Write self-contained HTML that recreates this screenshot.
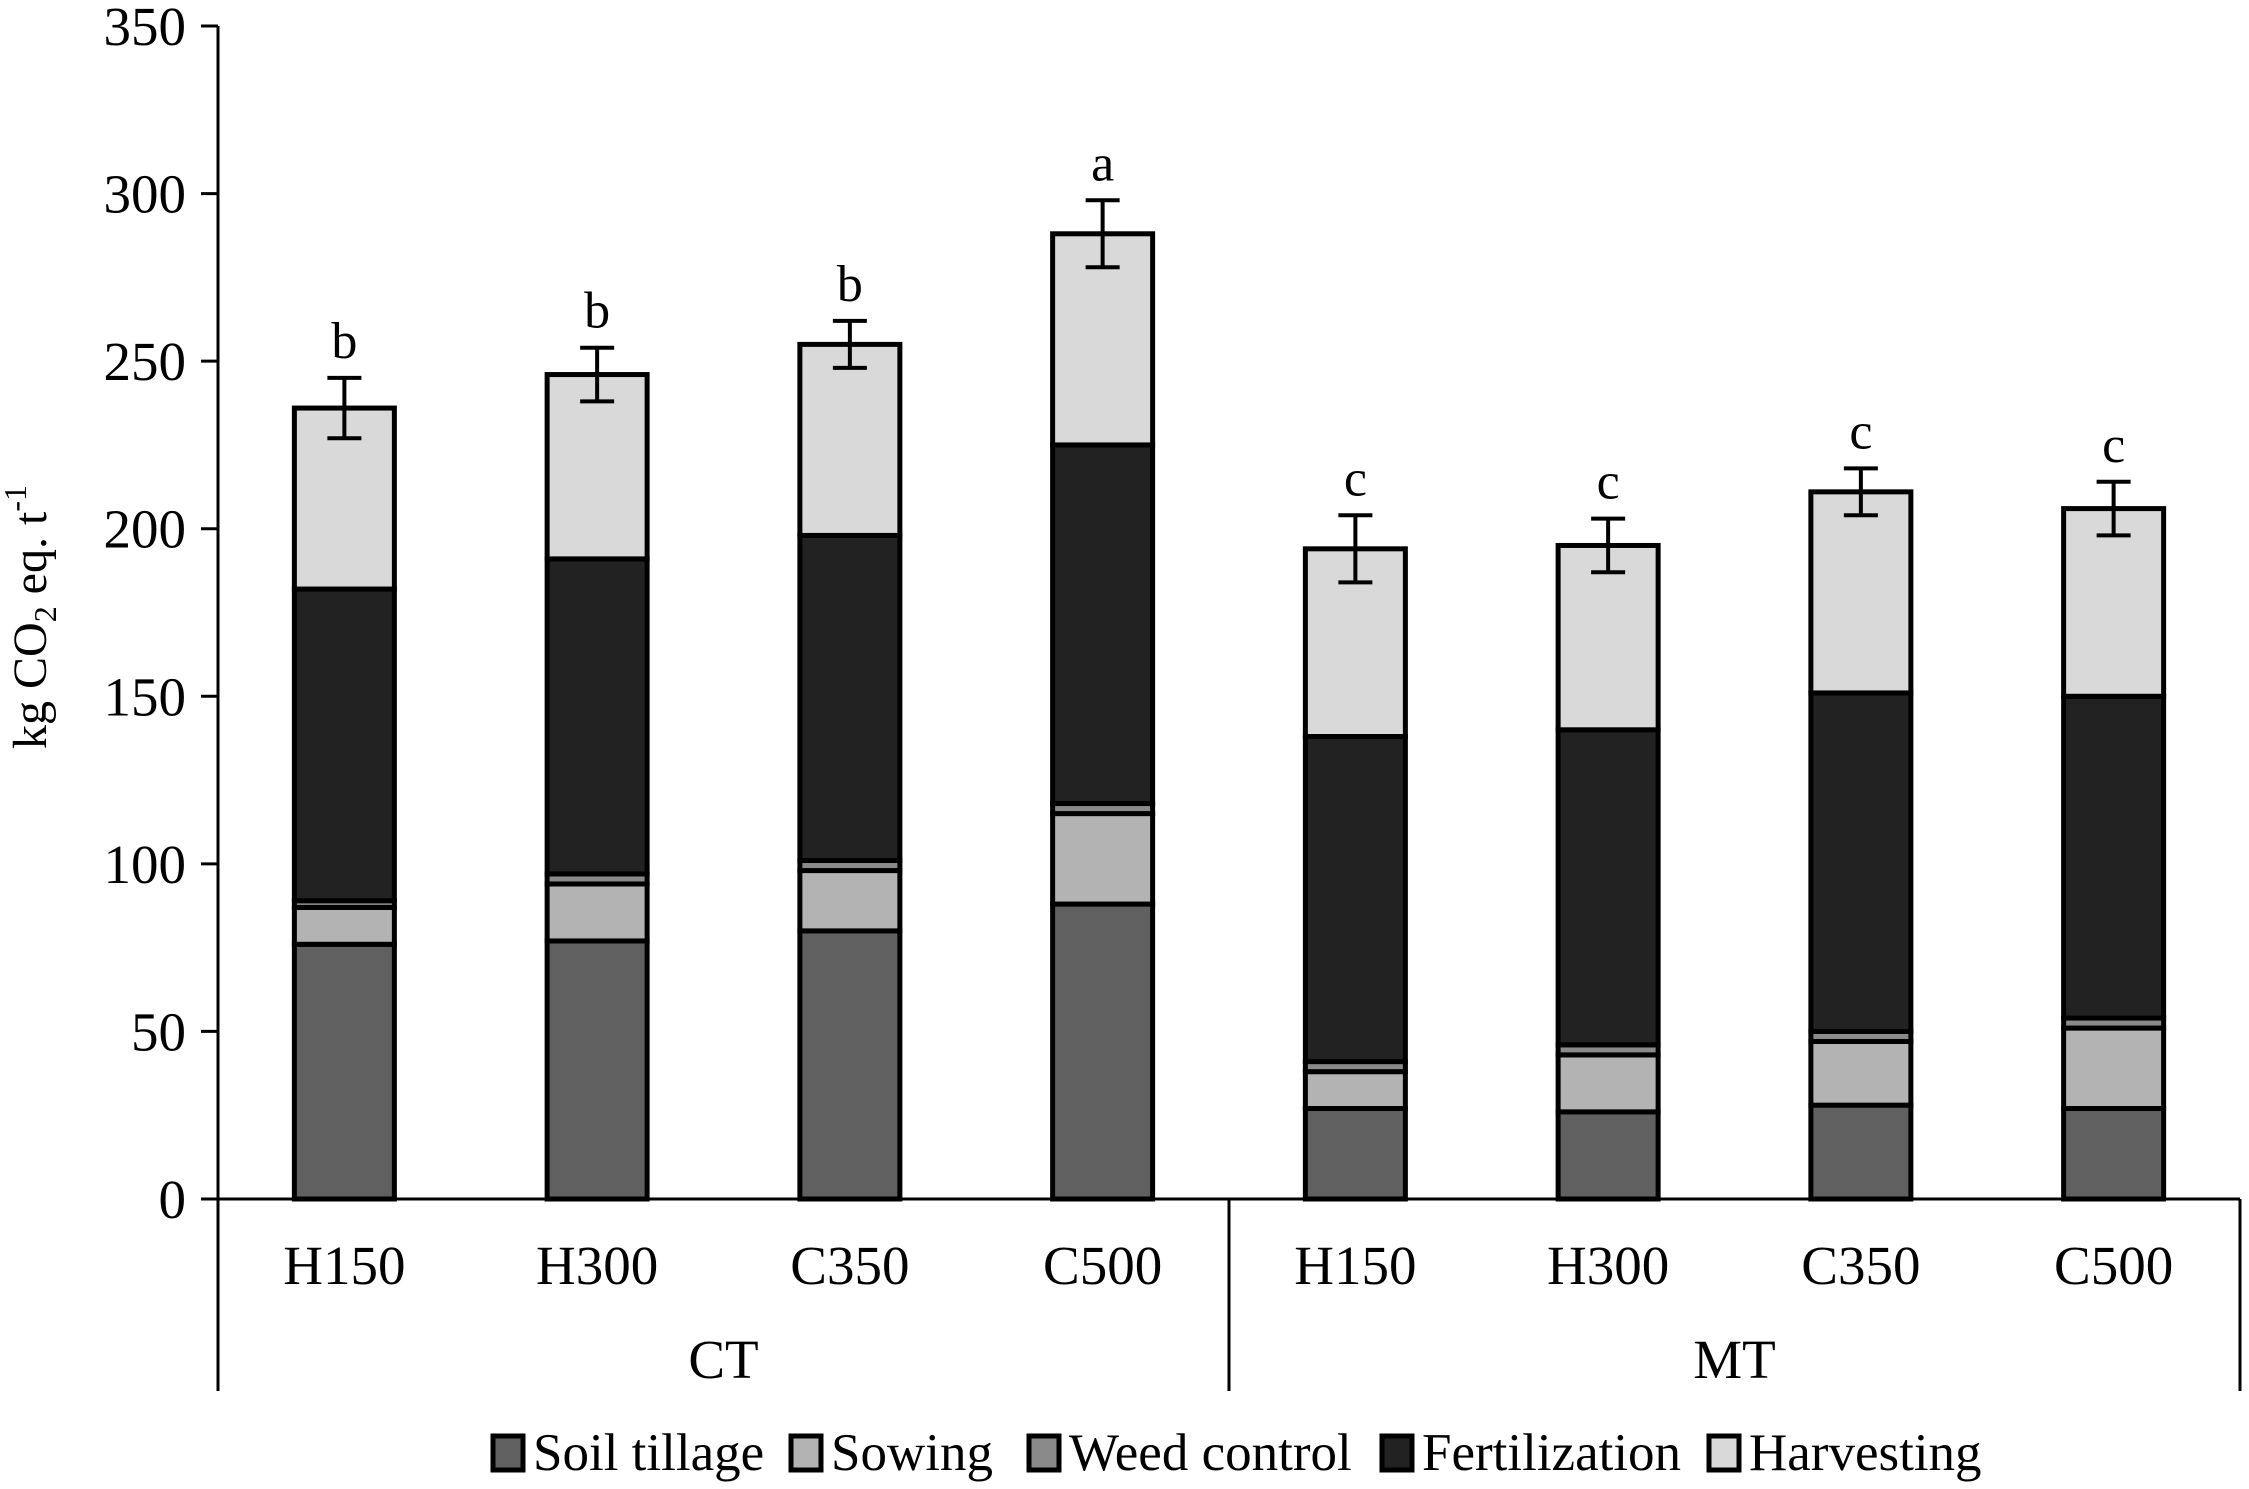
<!DOCTYPE html>
<html><head><meta charset="utf-8"><style>
html,body{margin:0;padding:0;background:#fff;}
svg{display:block;}
text{font-family:"Liberation Serif",serif;fill:#000;}
</style></head><body>
<svg id="chart" width="2249" height="1489" viewBox="0 0 2249 1489">
<g id="axes"></g>
<g id="bars"></g>
<g id="legend"></g>
<text x="0" y="0" transform="translate(46,617) rotate(-90)" text-anchor="middle" font-size="48">kg CO<tspan font-size="32" dy="10">2</tspan><tspan dy="-10"> eq. t</tspan><tspan font-size="32" dy="-20">-1</tspan></text>
</svg>
<script>
const categories = ["H150","H300","C350","C500","H150","H300","C350","C500"];
const groups = ["CT","MT"];
const seriesNames = ["Soil tillage","Sowing","Weed control","Fertilization","Harvesting"];
const soilTillage = [76,77,80,88,27,26,28,27];
const sowing = [11,17,18,27,11,17,19,24];
const weedControl = [2,3,3,3,3,3,3,3];
const fertilization = [93,94,97,107,97,94,101,96];
const harvesting = [54,55,57,63,56,55,60,56];
const errors = [9,8,7,10,10,8,7,8];
const letters = ["b","b","b","a","c","c","c","c"];
const yTicks = [0,50,100,150,200,250,300,350];
const colors = ["#606060","#b3b3b3","#8a8a8a","#222222","#d9d9d9"];

const NS="http://www.w3.org/2000/svg";
const X0=218, X1=2240, Y0=1199, Ytop=26, YMAX=350;
const catW=(X1-X0)/categories.length, barW=100;
const y=v=>Y0-(v/YMAX)*(Y0-Ytop);
const xc=i=>X0+catW*(i+0.5);
function mk(tag,attrs,parent){const e=document.createElementNS(NS,tag);for(const k in attrs)e.setAttribute(k,attrs[k]);parent.appendChild(e);return e;}
const axes=document.getElementById('axes'), bars=document.getElementById('bars'), legend=document.getElementById('legend');

let e=mk('line',{x1:X0,y1:Ytop,x2:X0,y2:1391,stroke:'#000','stroke-width':3},axes);

e=mk('line',{x1:201,y1:Y0,x2:X1,y2:Y0,stroke:'#000','stroke-width':3},axes);

[X0+catW*4,X1].forEach((xx,i)=>{
  const l=mk('line',{x1:xx,y1:Y0,x2:xx,y2:1391,stroke:'#000','stroke-width':3},axes);
  
  
});
yTicks.forEach(t=>{
  const l=mk('line',{x1:201,y1:y(t),x2:X0,y2:y(t),stroke:'#000','stroke-width':3},axes);
  
  
  const tx=mk('text',{x:186,y:y(t)+19,'text-anchor':'end','font-size':55},axes);
  tx.textContent=t;
  
  
});
categories.forEach((c,i)=>{
  const tx=mk('text',{x:xc(i),y:1284,'text-anchor':'middle','font-size':55},axes);
  tx.textContent=c;
  
  
});
groups.forEach((g,i)=>{
  const tx=mk('text',{x:X0+catW*(2+4*i),y:1378,'text-anchor':'middle','font-size':55},axes);
  tx.textContent=g;
  
  
});

const series=[soilTillage,sowing,weedControl,fertilization,harvesting];
categories.forEach((c,i)=>{
  let base=0;
  series.forEach((s,k)=>{
    const v=s[i];
    const r=mk('rect',{x:xc(i)-barW/2,y:y(base+v),width:barW,height:y(base)-y(base+v),fill:colors[k],stroke:'#000','stroke-width':5},bars);
    
    
    base+=v;
  });
  const top=base, er=errors[i], cx=xc(i);
  const eb=mk('path',{d:`M${cx},${y(top+er)}V${y(top-er)}M${cx-17},${y(top+er)}H${cx+17}M${cx-17},${y(top-er)}H${cx+17}`,stroke:'#000','stroke-width':4,fill:'none'},bars);
  
  
  const lt=mk('text',{x:cx,y:y(top+er)-20,'text-anchor':'middle','font-size':52},bars);
  lt.textContent=letters[i];
  
  
});

const legX=[493,791,1029,1382,1709];
seriesNames.forEach((n,k)=>{
  const r=mk('rect',{x:legX[k],y:1436,width:30,height:34,fill:colors[k],stroke:'#000','stroke-width':5},legend);
  
  
  const tx=mk('text',{x:legX[k]+40,y:1470,'font-size':53},legend);
  tx.textContent=n;
  
  
});
</script>
</body></html>
